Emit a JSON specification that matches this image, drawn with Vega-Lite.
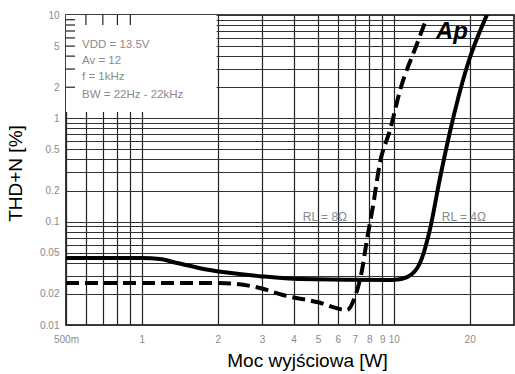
{
  "$schema": "https://vega.github.io/schema/vega-lite/v6.json",
  "width": 448,
  "height": 310,
  "autosize": {"type": "none"},
  "padding": {"left": 66, "top": 15, "right": 1, "bottom": 49},
  "background": "white",
  "config": {
    "font": "Liberation Sans",
    "view": {"stroke": "black", "strokeWidth": 1.5}
  },
  "datasets": {
    "curves": [
      {"s": "4", "x": 0.5, "y": 0.0445},
      {"s": "4", "x": 1.0, "y": 0.0445},
      {"s": "4", "x": 1.18, "y": 0.0435},
      {"s": "4", "x": 1.38, "y": 0.0398},
      {"s": "4", "x": 1.86, "y": 0.034},
      {"s": "4", "x": 2.94, "y": 0.0297},
      {"s": "4", "x": 4.24, "y": 0.0278},
      {"s": "4", "x": 9.92, "y": 0.0272},
      {"s": "4", "x": 11.3, "y": 0.0291},
      {"s": "4", "x": 12.7, "y": 0.0398},
      {"s": "4", "x": 13.9, "y": 0.083},
      {"s": "4", "x": 15.2, "y": 0.253},
      {"s": "4", "x": 16.7, "y": 0.738},
      {"s": "4", "x": 19.5, "y": 3.14},
      {"s": "4", "x": 23.6, "y": 10.46},
      {"s": "8", "x": 0.5, "y": 0.0255},
      {"s": "8", "x": 2.02, "y": 0.0255},
      {"s": "8", "x": 2.94, "y": 0.0228},
      {"s": "8", "x": 3.63, "y": 0.0195},
      {"s": "8", "x": 4.95, "y": 0.0167},
      {"s": "8", "x": 6.52, "y": 0.014},
      {"s": "8", "x": 7.01, "y": 0.0187},
      {"s": "8", "x": 7.48, "y": 0.034},
      {"s": "8", "x": 7.82, "y": 0.0665},
      {"s": "8", "x": 8.26, "y": 0.139},
      {"s": "8", "x": 8.81, "y": 0.37},
      {"s": "8", "x": 9.66, "y": 0.771},
      {"s": "8", "x": 10.6, "y": 1.88},
      {"s": "8", "x": 12.4, "y": 5.36},
      {"s": "8", "x": 13.5, "y": 9.35}
    ],
    "box": [{"x": 0.5, "x2": 1.98, "y": 1.15, "y2": 10}],
    "topticks": [
      {"x": 0.6, "y": 8, "y2": 10},
      {"x": 0.7, "y": 8, "y2": 10},
      {"x": 0.8, "y": 8, "y2": 10},
      {"x": 0.9, "y": 8, "y2": 10}
    ],
    "leftticks": [
      {"x": 0.5, "x2": 0.543, "y": 2},
      {"x": 0.5, "x2": 0.543, "y": 3},
      {"x": 0.5, "x2": 0.543, "y": 4},
      {"x": 0.5, "x2": 0.543, "y": 5},
      {"x": 0.5, "x2": 0.543, "y": 6},
      {"x": 0.5, "x2": 0.543, "y": 7},
      {"x": 0.5, "x2": 0.543, "y": 8},
      {"x": 0.5, "x2": 0.543, "y": 9}
    ],
    "boxtext": [
      {"x": 0.579, "y": 5.12, "t": "VDD = 13.5V"},
      {"x": 0.579, "y": 3.59, "t": "Av = 12"},
      {"x": 0.579, "y": 2.51, "t": "f = 1kHz"},
      {"x": 0.579, "y": 1.68, "t": "BW = 22Hz - 22kHz"}
    ],
    "labels": [
      {"x": 5.33, "y": 0.111, "t": "RL = 8Ω"},
      {"x": 18.97, "y": 0.111, "t": "RL = 4Ω"}
    ],
    "logo": [{"x": 17.0, "y": 6.84, "t": "Ap"}]
  },
  "encoding": {
    "x": {
      "field": "x",
      "type": "quantitative",
      "scale": {"type": "log", "domain": [0.5, 30], "nice": false},
      "axis": {
        "title": "Moc wyjściowa [W]",
        "values": [0.5, 0.6, 0.7, 0.8, 0.9, 1, 2, 3, 4, 5, 6, 7, 8, 9, 10, 20],
        "format": "~g",
        "labelExpr": "datum.value == 0.5 ? '500m' : (datum.value < 1 ? '' : datum.label)",
        "labelOverlap": false,
        "labelFlush": false,
        "grid": true,
        "gridColor": "#222",
        "gridWidth": 1.2,
        "ticks": false,
        "domain": false,
        "labelColor": "#8a8a8a",
        "labelFontSize": 10,
        "labelPadding": 9,
        "titleFontSize": 19,
        "titleFontWeight": "normal",
        "titleColor": "black",
        "titlePadding": 7,
        "titleX": 241
      }
    },
    "y": {
      "field": "y",
      "type": "quantitative",
      "scale": {"type": "log", "domain": [0.01, 10], "nice": false},
      "axis": {
        "title": "THD+N [%]",
        "values": [0.01, 0.02, 0.03, 0.04, 0.05, 0.06, 0.07, 0.08, 0.09, 0.1, 0.2, 0.3, 0.4, 0.5, 0.6, 0.7, 0.8, 0.9, 1, 2, 3, 4, 5, 6, 7, 8, 9, 10],
        "format": "~g",
        "labelExpr": "indexof([0.01, 0.02, 0.05, 0.1, 0.2, 0.5, 1, 2, 5, 10], datum.value) >= 0 ? datum.label : ''",
        "labelOverlap": false,
        "labelFlush": false,
        "grid": true,
        "gridColor": "#333",
        "gridWidth": 1.1,
        "ticks": false,
        "domain": false,
        "labelColor": "#8a8a8a",
        "labelFontSize": 10,
        "labelPadding": 7,
        "titleFontSize": 19,
        "titleFontWeight": "normal",
        "titleColor": "black",
        "titlePadding": 14,
        "titleY": 158
      }
    }
  },
  "layer": [
    {
      "data": {"name": "box"},
      "mark": {"type": "rect", "fill": "white", "stroke": null},
      "encoding": {"x2": {"field": "x2"}, "y2": {"field": "y2"}}
    },
    {
      "data": {"name": "topticks"},
      "mark": {"type": "rule", "color": "#222", "strokeWidth": 1.2},
      "encoding": {"y2": {"field": "y2"}}
    },
    {
      "data": {"name": "leftticks"},
      "mark": {"type": "rule", "color": "#222", "strokeWidth": 1.2},
      "encoding": {"x2": {"field": "x2"}}
    },
    {
      "data": {"name": "curves"},
      "transform": [{"filter": "datum.s == '8'"}],
      "mark": {"type": "line", "color": "black", "strokeWidth": 4, "strokeDash": [13, 6], "interpolate": "monotone", "clip": true},
      "encoding": {}
    },
    {
      "data": {"name": "curves"},
      "transform": [{"filter": "datum.s == '4'"}],
      "mark": {"type": "line", "color": "black", "strokeWidth": 4, "interpolate": "monotone", "clip": true},
      "encoding": {}
    },
    {
      "data": {"name": "boxtext"},
      "mark": {"type": "text", "align": "left", "baseline": "middle", "fontSize": 11.5, "color": "#8a8a8a"},
      "encoding": {"text": {"field": "t"}}
    },
    {
      "data": {"name": "labels"},
      "mark": {"type": "text", "align": "center", "baseline": "middle", "fontSize": 12, "color": "#8a8a8a"},
      "encoding": {"text": {"field": "t"}}
    },
    {
      "data": {"name": "logo"},
      "mark": {"type": "text", "align": "center", "baseline": "middle", "fontSize": 24, "fontWeight": "bold", "fontStyle": "italic", "color": "black"},
      "encoding": {"text": {"field": "t"}}
    }
  ]
}
